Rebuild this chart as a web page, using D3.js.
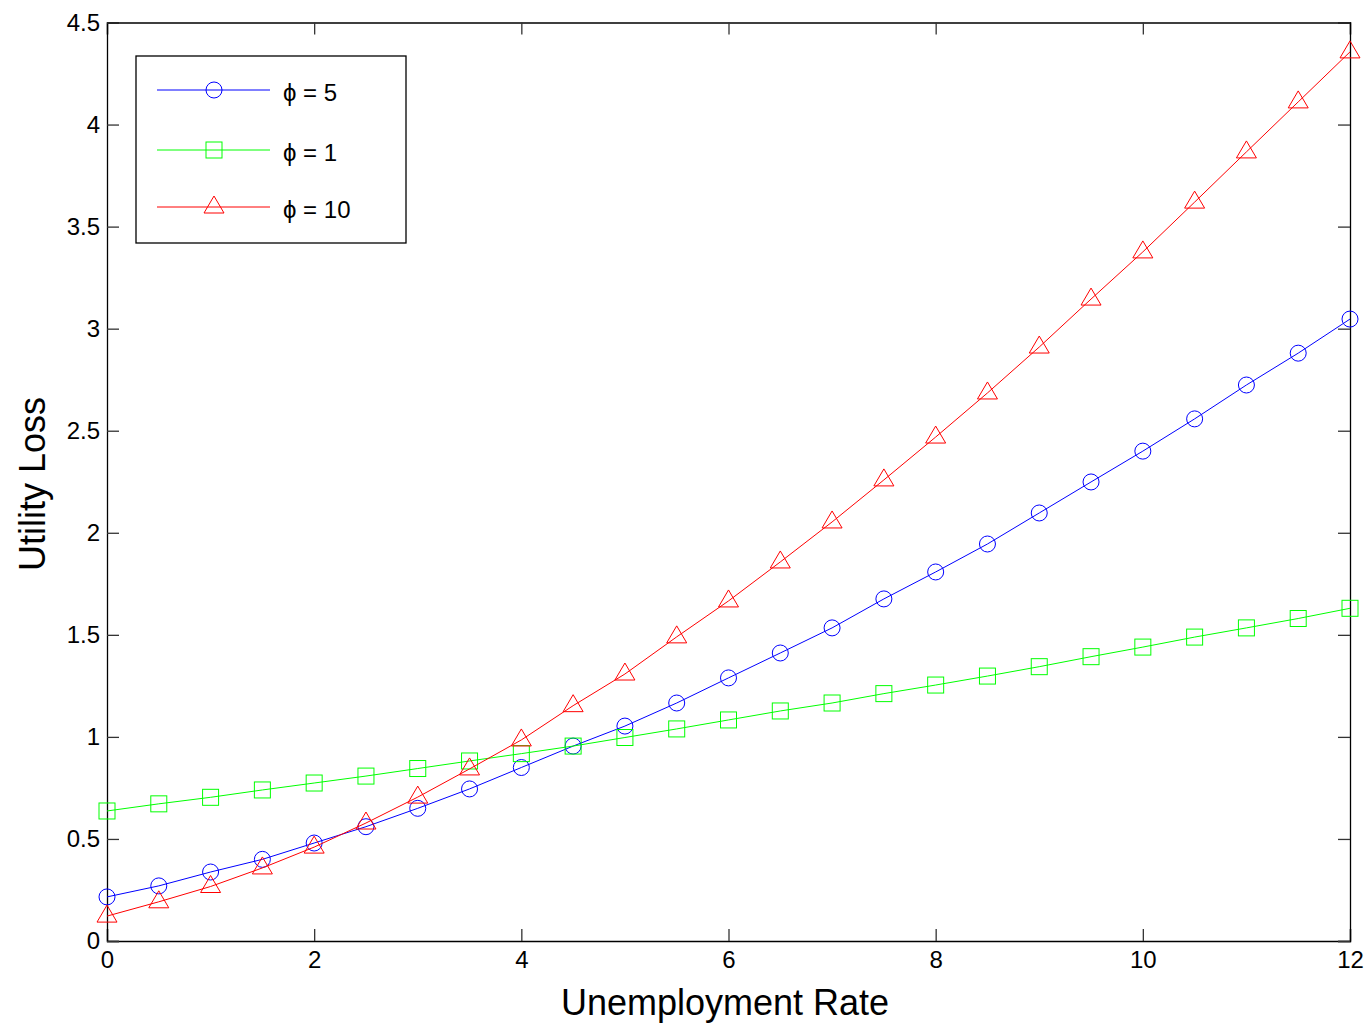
<!DOCTYPE html>
<html><head><meta charset="utf-8">
<script src="https://cdn.jsdelivr.net/npm/d3@7"></script>
<style>body{margin:0;background:#fff}svg{display:block}text{font-family:"Liberation Sans",Arial,sans-serif}</style>
</head><body>
<script>
const xValues = [0,0.5,1,1.5,2,2.5,3,3.5,4,4.5,5,5.5,6,6.5,7,7.5,8,8.5,9,9.5,10,10.5,11,11.5,12];
const phi5 = [0.216,0.27,0.338,0.40,0.48,0.56,0.65,0.745,0.85,0.955,1.053,1.166,1.289,1.411,1.534,1.676,1.808,1.945,2.097,2.249,2.40,2.558,2.724,2.88,3.047];
const phi1 = [0.637,0.672,0.704,0.74,0.774,0.808,0.845,0.882,0.918,0.955,0.997,1.039,1.083,1.127,1.166,1.212,1.254,1.298,1.344,1.393,1.44,1.489,1.534,1.58,1.63];
const phi10 = [0.122,0.192,0.267,0.358,0.46,0.578,0.705,0.843,0.985,1.153,1.308,1.49,1.666,1.857,2.053,2.259,2.469,2.685,2.91,3.145,3.376,3.62,3.866,4.111,4.356];
const xTicks = [0,2,4,6,8,10,12];
const yTicks = [0,0.5,1,1.5,2,2.5,3,3.5,4,4.5];
const seriesNames = ["ϕ = 5","ϕ = 1","ϕ = 10"];
const seriesColors = ["#0000ff","#00ff00","#ff0000"];
const seriesMarkers = ["circle","square","triangle"];

const W=1368,H=1027;
const L=107,R=1350,T=22.5,B=941;
const svg=d3.select("body").append("svg").attr("width",W).attr("height",H);
const x=d3.scaleLinear().domain([0,12]).range([L,R]);
const y=d3.scaleLinear().domain([0,4.5]).range([B,T]);

const tl=12;
const gx=svg.append("g").attr("transform",`translate(0,${B})`)
  .call(d3.axisBottom(x).tickValues(xTicks).tickSize(-tl).tickPadding(10).tickFormat(d3.format("")));
const gxt=svg.append("g").attr("transform",`translate(0,${T})`)
  .call(d3.axisTop(x).tickValues(xTicks).tickSize(-tl).tickFormat(""));
const gy=svg.append("g").attr("transform",`translate(${L},0)`)
  .call(d3.axisLeft(y).tickValues(yTicks).tickSize(-tl).tickPadding(7).tickFormat(d3.format("")));
const gyr=svg.append("g").attr("transform",`translate(${R},0)`)
  .call(d3.axisRight(y).tickValues(yTicks).tickSize(-tl).tickFormat(""));
[gx,gxt,gy,gyr].forEach(g=>{
  g.attr("font-size",24).attr("font-family","Liberation Sans, Arial, sans-serif");
  g.select(".domain").attr("stroke","#000").attr("stroke-width",1.3);
  g.selectAll(".tick line").attr("stroke","#333").attr("stroke-width",1.3);
  g.selectAll("text").attr("font-size",24).attr("fill","#000");
});
gx.selectAll("text").attr("dy","0.71em");

function drawMarker(g,type,cx,cy,color){
  if(type==="circle") g.append("circle").attr("cx",cx).attr("cy",cy).attr("r",8).attr("fill","none").attr("stroke",color).attr("stroke-width",1);
  else if(type==="square") g.append("rect").attr("x",cx-8).attr("y",cy-8).attr("width",16).attr("height",16).attr("fill","none").attr("stroke",color).attr("stroke-width",1);
  else g.append("path").attr("d",`M${cx},${cy-11}L${cx+10},${cy+6}L${cx-10},${cy+6}Z`).attr("fill","none").attr("stroke",color).attr("stroke-width",1);
}

const allSeries=[phi5,phi1,phi10];
const line=d3.line().x((d,i)=>x(xValues[i])).y(d=>y(d));
allSeries.forEach((s,k)=>{
  const g=svg.append("g");
  g.append("path").datum(s).attr("d",line).attr("fill","none").attr("stroke",seriesColors[k]).attr("stroke-width",1);
  s.forEach((v,i)=>drawMarker(g,seriesMarkers[k],x(xValues[i]),y(v),seriesColors[k]));
});

const lg=svg.append("g");
lg.append("rect").attr("x",136).attr("y",56).attr("width",270).attr("height",187).attr("fill","#fff").attr("stroke","#000").attr("stroke-width",1.3);
const rowsY=[90,150,207];
seriesNames.forEach((n,k)=>{
  lg.append("line").attr("x1",157).attr("x2",270).attr("y1",rowsY[k]).attr("y2",rowsY[k]).attr("stroke",seriesColors[k]).attr("stroke-width",1);
  drawMarker(lg,seriesMarkers[k],214,rowsY[k],seriesColors[k]);
  lg.append("text").attr("x",283).attr("y",rowsY[k]+11).attr("font-size",24).text(n);
});

svg.append("text").attr("x",725).attr("y",1015).attr("text-anchor","middle").attr("font-size",36).text("Unemployment Rate");
svg.append("text").attr("transform","translate(45,484) rotate(-90)").attr("text-anchor","middle").attr("font-size",36).text("Utility Loss");
</script>
</body></html>
